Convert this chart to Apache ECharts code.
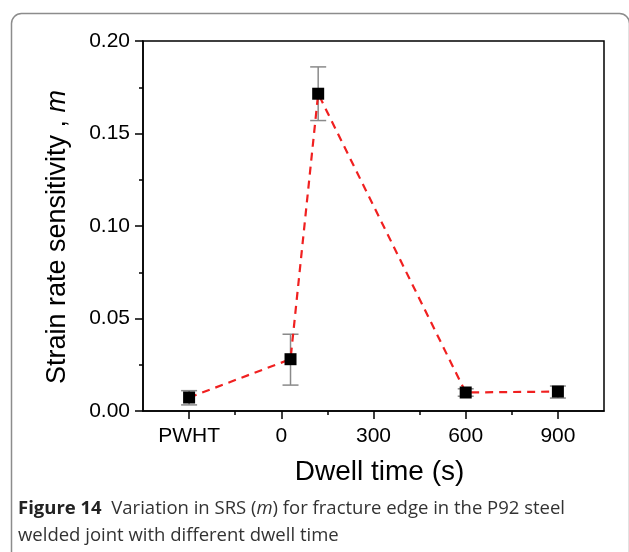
<!DOCTYPE html>
<html><head><meta charset="utf-8">
<script src="https://cdn.jsdelivr.net/npm/echarts@6/dist/echarts.min.js"></script>
<style>html,body{margin:0;padding:0;background:#fff}#c{width:629px;height:552px}</style>
</head><body><div id="c"></div>
<script>
// ---- data ----
const categories = ['PWHT', '0', '300', '600', '900'];
const tickPositions = [-300, 0, 300, 600, 900];
const minorTickPositions = [-150, 150, 450, 750];
const dwellTimes = [-300, 30, 120, 600, 900];
const srsValues = [0.0073, 0.0280, 0.1715, 0.0100, 0.0105];
const errLow = [0.0033, 0.0140, 0.1570, 0.0080, 0.0070];
const errHigh = [0.0110, 0.0415, 0.1860, 0.0120, 0.0135];
const yTicks = [0, 0.05, 0.10, 0.15, 0.20];

const FONT = 'Liberation Sans, Arial, sans-serif';
const chart = echarts.init(document.getElementById('c'));
const gridRect = { left: 143, right: 25, top: 41, bottom: 141 };

const lineData = dwellTimes.map((x, i) => [x, srsValues[i]]);
const errData = dwellTimes.map((x, i) => [x, errLow[i], errHigh[i]]);

chart.setOption({
  animation: false,
  backgroundColor: '#fff',
  grid: [
    Object.assign({ show: true, borderColor: '#000', borderWidth: 1.5, backgroundColor: 'transparent' }, gridRect),
    Object.assign({ show: false }, gridRect)
  ],
  xAxis: [{
    type: 'value', gridIndex: 0, min: -450, max: 1050, interval: 150,
    axisLine: { show: true, onZero: false, lineStyle: { color: '#000', width: 1.5 } },
    axisTick: { show: true, length: 8, customValues: tickPositions, lineStyle: { color: '#000', width: 1.5 } },
    axisLabel: {
      show: true, customValues: tickPositions, margin: 15, color: '#000', fontSize: 21, fontFamily: FONT,
      formatter: v => { const i = tickPositions.indexOf(v); return i >= 0 ? categories[i] : ''; }
    },
    splitLine: { show: false },
    name: 'Dwell time (s)', nameLocation: 'middle', nameGap: 47,
    nameTextStyle: { color: '#000', fontSize: 28, fontFamily: FONT, padding: [0, 0, 0, 12] }
  }, {
    type: 'value', gridIndex: 1, min: -450, max: 1050, interval: 150,
    axisLine: { show: false, onZero: false },
    axisTick: { show: true, length: 4, customValues: minorTickPositions, lineStyle: { color: '#000', width: 1.5 } },
    axisLabel: { show: false },
    splitLine: { show: false }
  }],
  yAxis: [{
    type: 'value', gridIndex: 0, min: 0, max: 0.2, interval: 0.05,
    axisLine: { show: true, onZero: false, lineStyle: { color: '#000', width: 1.5 } },
    axisTick: { show: true, length: 8, lineStyle: { color: '#000', width: 1.5 } },
    minorTick: { show: true, splitNumber: 2, length: 4, lineStyle: { color: '#000', width: 1.5 } },
    axisLabel: {
      customValues: yTicks, margin: 13, color: '#000', fontSize: 21, fontFamily: FONT,
      formatter: v => v.toFixed(2)
    },
    splitLine: { show: false },
    name: 'Strain rate sensitivity , {i|m}', nameLocation: 'middle', nameGap: 72,
    nameTextStyle: {
      color: '#000', fontSize: 27, fontFamily: FONT, padding: [0, 22, 0, 0],
      rich: { i: { fontStyle: 'italic', fontSize: 27, fontFamily: FONT, color: '#000' } }
    }
  }, {
    type: 'value', gridIndex: 1, min: 0, max: 0.2, show: false,
    axisLine: { onZero: false }
  }],
  series: [{
    type: 'custom', xAxisIndex: 0, yAxisIndex: 0, z: 1,
    data: errData,
    encode: { x: 0, y: [1, 2] },
    renderItem: (params, api) => {
      const x = api.value(0);
      const pLo = api.coord([x, api.value(1)]);
      const pHi = api.coord([x, api.value(2)]);
      const w = 8;
      const style = { stroke: '#8a8a8a', lineWidth: 1.5 };
      return { type: 'group', children: [
        { type: 'line', shape: { x1: pLo[0], y1: pLo[1], x2: pHi[0], y2: pHi[1] }, style },
        { type: 'line', shape: { x1: pLo[0] - w, y1: pLo[1], x2: pLo[0] + w, y2: pLo[1] }, style },
        { type: 'line', shape: { x1: pHi[0] - w, y1: pHi[1], x2: pHi[0] + w, y2: pHi[1] }, style }
      ]};
    }
  }, {
    type: 'line', xAxisIndex: 0, yAxisIndex: 0, z: 3,
    data: lineData,
    symbol: 'rect', symbolSize: 12,
    itemStyle: { color: '#000' },
    lineStyle: { color: '#f02020', width: 2.2, type: [8, 6] }
  }],
  graphic: [{
    type: 'rect', left: 9, top: 11, z: -10,
    shape: { x: 0, y: 0, width: 618, height: 580, r: 10 },
    style: { fill: 'none', stroke: '#8c8c8c', lineWidth: 1.5 }
  }, {
    type: 'text', left: 18, top: 495,
    style: {
      text: '{b|Figure 14}  Variation in SRS ({i|m}) for fracture edge in the P92 steel\nwelded joint with different dwell time',
      font: '18.5px "Open Sans", sans-serif', fill: '#333', lineHeight: 27,
      rich: {
        b: { fontWeight: 'bold', fontSize: 18.5, fontFamily: '"Open Sans", sans-serif', fill: '#222', lineHeight: 27 },
        i: { fontStyle: 'italic', fontSize: 18.5, fontFamily: '"Open Sans", sans-serif', fill: '#333', lineHeight: 27 }
      }
    }
  }]
});
</script>
</body></html>
